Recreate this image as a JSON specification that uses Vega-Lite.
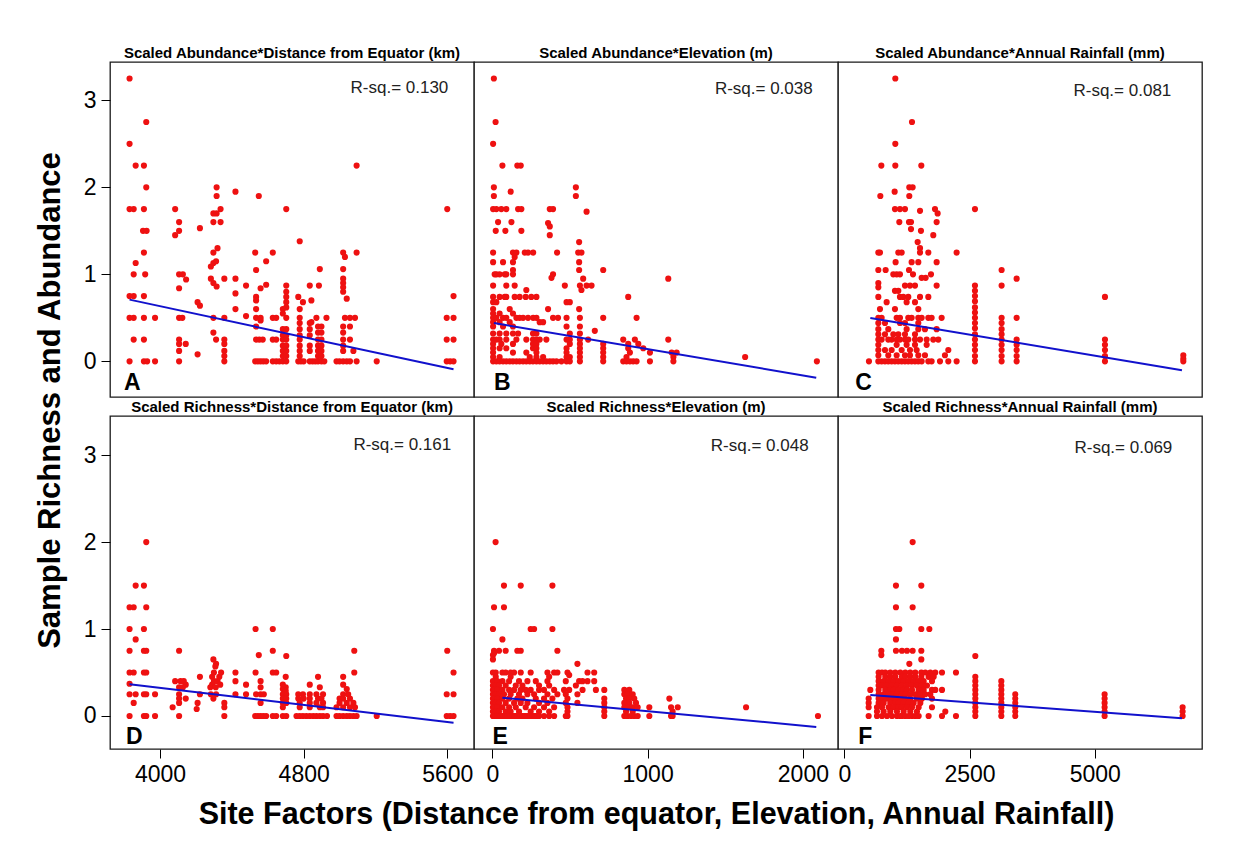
{
  "$schema": "https://vega.github.io/schema/vega-lite/v6.json",
  "padding": {"left": 33, "top": 43, "right": 5, "bottom": 5},
  "background": "white",
  "spacing": 0,
  "bounds": "flush",
  "align": "each",
  "columns": 3,
  "config": {
    "font": "Liberation Sans",
    "view": {"stroke": "#1a1a1a", "strokeWidth": 1.3, "fill": "white"},
    "axis": {"domain": false, "grid": false, "ticks": true, "tickColor": "#000", "tickSize": 9, "tickWidth": 1, "labelFont": "Liberation Sans", "labelFontSize": 23, "labelColor": "#000", "labelPadding": 5, "format": "d", "titleFont": "Liberation Sans", "titleFontWeight": "bold", "titleFontSize": 30.5, "titleColor": "#000", "titleLimit": 2000},
    "axisY": {"titlePadding": 17, "titleFontSize": 31},
    "axisX": {"titlePadding": 13}
  },
  "datasets": {
    "A": [
      {"x":3830,"y":3.25},{"x":3923,"y":2.75},{"x":3830,"y":2.5},{"x":3864,"y":2.25},{"x":3910,"y":2.25},{"x":5095,"y":2.25},{"x":3923,"y":2},{"x":4315,"y":2},{"x":4315,"y":1.9},{"x":4420,"y":1.95},{"x":4550,"y":1.9},
      {"x":3830,"y":1.75},{"x":3853,"y":1.75},{"x":3910,"y":1.75},{"x":4084,"y":1.75},{"x":4297,"y":1.7},{"x":4315,"y":1.7},{"x":4337,"y":1.75},{"x":4703,"y":1.75},{"x":5600,"y":1.75},
      {"x":4106,"y":1.6},{"x":4106,"y":1.5},{"x":4084,"y":1.45},{"x":4222,"y":1.53},{"x":4297,"y":1.6},{"x":4337,"y":1.6},{"x":3905,"y":1.5},{"x":3925,"y":1.5},{"x":4778,"y":1.38},
      {"x":3910,"y":1.25},{"x":4297,"y":1.25},{"x":4320,"y":1.3},{"x":4530,"y":1.25},{"x":4628,"y":1.25},{"x":5020,"y":1.25},{"x":5030,"y":1.2},{"x":5095,"y":1.25},
      {"x":3864,"y":1.13},{"x":4297,"y":1.13},{"x":4312,"y":1.15},{"x":4591,"y":1.15},{"x":4283,"y":1.09},{"x":4535,"y":1.05},{"x":4890,"y":1.06},{"x":5020,"y":1.06},
      {"x":3853,"y":1},{"x":3917,"y":1},{"x":4106,"y":1},{"x":4127,"y":1},{"x":4145,"y":0.94},{"x":4283,"y":0.95},{"x":4297,"y":0.9},{"x":4315,"y":0.86},{"x":4358,"y":0.95},{"x":4420,"y":0.95},{"x":4479,"y":0.87},{"x":4560,"y":0.84},{"x":4591,"y":0.88},
      {"x":4703,"y":0.87},{"x":4703,"y":0.8},{"x":4703,"y":0.74},{"x":4703,"y":0.68},{"x":4703,"y":0.62},{"x":4834,"y":0.87},{"x":4885,"y":0.87},{"x":5020,"y":0.95},{"x":5020,"y":0.9},{"x":5020,"y":0.85},{"x":5020,"y":0.8},{"x":5040,"y":0.72},{"x":4106,"y":0.84},
      {"x":3830,"y":0.75},{"x":3853,"y":0.75},{"x":3910,"y":0.75},{"x":4209,"y":0.68},{"x":4222,"y":0.64},{"x":4420,"y":0.78},{"x":4535,"y":0.74},{"x":4535,"y":0.7},{"x":4684,"y":0.6},{"x":4770,"y":0.74},{"x":4796,"y":0.68},{"x":4843,"y":0.7},{"x":5635,"y":0.75},{"x":4778,"y":0.6},{"x":4420,"y":0.6},{"x":4479,"y":0.52},{"x":4535,"y":0.6},
      {"x":3830,"y":0.5},{"x":3853,"y":0.5},{"x":3910,"y":0.5},{"x":3972,"y":0.5},{"x":4106,"y":0.5},{"x":4124,"y":0.5},{"x":4297,"y":0.5},{"x":4358,"y":0.5},{"x":4535,"y":0.5},{"x":4560,"y":0.5},{"x":4628,"y":0.5},{"x":4647,"y":0.5},{"x":4703,"y":0.5},{"x":4778,"y":0.5},{"x":4871,"y":0.5},{"x":4927,"y":0.5},{"x":5030,"y":0.5},{"x":5058,"y":0.5},{"x":5086,"y":0.5},{"x":5597,"y":0.5},{"x":5635,"y":0.5},
      {"x":4684,"y":0.55},{"x":4843,"y":0.45},{"x":4535,"y":0.4},{"x":4560,"y":0.47},{"x":5058,"y":0.4},
      {"x":3853,"y":0.25},{"x":3910,"y":0.25},{"x":4106,"y":0.25},{"x":4312,"y":0.25},{"x":4358,"y":0.25},{"x":4535,"y":0.25},{"x":4553,"y":0.25},{"x":4572,"y":0.25},{"x":4628,"y":0.25},{"x":4647,"y":0.25},{"x":4297,"y":0.33},{"x":5597,"y":0.25},{"x":5635,"y":0.25},
      {"x":4358,"y":0.2},{"x":4358,"y":0.12},{"x":4358,"y":0.06},
      {"x":4684,"y":0.37},{"x":4684,"y":0.3},{"x":4684,"y":0.25},{"x":4684,"y":0.18},{"x":4684,"y":0.12},{"x":4684,"y":0.06},
      {"x":4703,"y":0.37},{"x":4703,"y":0.3},{"x":4703,"y":0.25},{"x":4703,"y":0.18},{"x":4703,"y":0.12},{"x":4703,"y":0.06},
      {"x":4778,"y":0.44},{"x":4778,"y":0.37},{"x":4778,"y":0.3},{"x":4778,"y":0.25},{"x":4778,"y":0.18},{"x":4778,"y":0.12},{"x":4778,"y":0.06},
      {"x":4834,"y":0.44},{"x":4834,"y":0.37},{"x":4834,"y":0.3},{"x":4834,"y":0.18},{"x":4834,"y":0.12},
      {"x":4880,"y":0.4},{"x":4880,"y":0.33},{"x":4880,"y":0.25},{"x":4880,"y":0.18},{"x":4880,"y":0.12},{"x":4880,"y":0.06},
      {"x":4899,"y":0.4},{"x":4899,"y":0.33},{"x":4899,"y":0.25},{"x":4899,"y":0.18},{"x":4899,"y":0.12},{"x":4899,"y":0.06},
      {"x":5020,"y":0.4},{"x":5020,"y":0.33},{"x":5020,"y":0.25},{"x":5020,"y":0.18},{"x":5020,"y":0.12},
      {"x":5058,"y":0.25},{"x":5077,"y":0.12},{"x":4106,"y":0.2},{"x":4143,"y":0.2},{"x":4106,"y":0.12},{"x":4209,"y":0.08},
      {"x":3830,"y":0},{"x":3910,"y":0},{"x":3928,"y":0},{"x":3972,"y":0},{"x":4106,"y":0},{"x":4358,"y":0},{"x":4530,"y":0},{"x":4545,"y":0},{"x":4560,"y":0},{"x":4575,"y":0},{"x":4591,"y":0},{"x":4628,"y":0},{"x":4647,"y":0},{"x":4665,"y":0},{"x":4684,"y":0},{"x":4703,"y":0},{"x":4770,"y":0},{"x":4785,"y":0},{"x":4800,"y":0},{"x":4834,"y":0},{"x":4850,"y":0},{"x":4865,"y":0},{"x":4880,"y":0},{"x":4899,"y":0},{"x":4915,"y":0},{"x":4983,"y":0},{"x":5000,"y":0},{"x":5020,"y":0},{"x":5040,"y":0},{"x":5058,"y":0},{"x":5095,"y":0},{"x":5207,"y":0},{"x":5597,"y":0},{"x":5616,"y":0},{"x":5635,"y":0}
    ],
    "B": [
      {"x":10,"y":3.25},{"x":21,"y":2.75},{"x":5,"y":2.5},{"x":65,"y":2.25},{"x":161,"y":2.25},{"x":183,"y":2.25},{"x":10,"y":2},{"x":10,"y":1.9},{"x":118,"y":1.95},{"x":538,"y":2},{"x":538,"y":1.9},
      {"x":5,"y":1.75},{"x":26,"y":1.75},{"x":58,"y":1.75},{"x":90,"y":1.75},{"x":166,"y":1.75},{"x":187,"y":1.75},{"x":370,"y":1.75},{"x":391,"y":1.75},{"x":607,"y":1.72},
      {"x":37,"y":1.6},{"x":123,"y":1.6},{"x":359,"y":1.59},{"x":370,"y":1.55},{"x":22,"y":1.5},{"x":84,"y":1.5},{"x":187,"y":1.5},{"x":370,"y":1.45},{"x":559,"y":1.37},
      {"x":5,"y":1.25},{"x":133,"y":1.25},{"x":155,"y":1.25},{"x":209,"y":1.25},{"x":230,"y":1.25},{"x":263,"y":1.25},{"x":417,"y":1.25},{"x":553,"y":1.25},{"x":574,"y":1.25},{"x":144,"y":1.2},
      {"x":5,"y":1.14},{"x":69,"y":1.14},{"x":133,"y":1.14},{"x":559,"y":1.14},{"x":133,"y":1.05},{"x":559,"y":1.05},{"x":714,"y":1.05},
      {"x":15,"y":1},{"x":26,"y":1},{"x":47,"y":1},{"x":80,"y":1},{"x":90,"y":1},{"x":133,"y":1},{"x":391,"y":1},{"x":381,"y":0.96},{"x":585,"y":0.95},{"x":1133,"y":0.95},
      {"x":5,"y":0.87},{"x":90,"y":0.87},{"x":144,"y":0.87},{"x":467,"y":0.87},{"x":564,"y":0.87},{"x":607,"y":0.87},{"x":639,"y":0.87},{"x":219,"y":0.82},{"x":574,"y":0.82},
      {"x":5,"y":0.74},{"x":47,"y":0.74},{"x":80,"y":0.74},{"x":90,"y":0.74},{"x":144,"y":0.74},{"x":176,"y":0.74},{"x":215,"y":0.74},{"x":251,"y":0.74},{"x":284,"y":0.74},{"x":875,"y":0.74},
      {"x":478,"y":0.68},{"x":499,"y":0.68},{"x":5,"y":0.68},{"x":26,"y":0.68},{"x":5,"y":0.6},{"x":112,"y":0.6},{"x":359,"y":0.6},{"x":559,"y":0.6},{"x":5,"y":0.55},{"x":47,"y":0.55},{"x":133,"y":0.55},
      {"x":5,"y":0.5},{"x":26,"y":0.5},{"x":69,"y":0.5},{"x":90,"y":0.5},{"x":155,"y":0.5},{"x":176,"y":0.5},{"x":198,"y":0.5},{"x":230,"y":0.5},{"x":263,"y":0.5},{"x":284,"y":0.5},{"x":391,"y":0.5},{"x":423,"y":0.5},{"x":478,"y":0.5},{"x":564,"y":0.5},{"x":714,"y":0.5},{"x":929,"y":0.5},
      {"x":5,"y":0.45},{"x":47,"y":0.45},{"x":112,"y":0.45},{"x":305,"y":0.45},{"x":327,"y":0.45},
      {"x":5,"y":0.4},{"x":69,"y":0.4},{"x":133,"y":0.4},{"x":478,"y":0.4},{"x":564,"y":0.4},{"x":660,"y":0.35},
      {"x":5,"y":0.32},{"x":47,"y":0.32},{"x":90,"y":0.32},{"x":133,"y":0.32},{"x":166,"y":0.32},{"x":262,"y":0.32},{"x":284,"y":0.32},{"x":499,"y":0.32},{"x":564,"y":0.32},
      {"x":5,"y":0.25},{"x":26,"y":0.25},{"x":47,"y":0.25},{"x":90,"y":0.25},{"x":155,"y":0.25},{"x":219,"y":0.25},{"x":262,"y":0.25},{"x":284,"y":0.25},{"x":305,"y":0.25},{"x":348,"y":0.25},{"x":478,"y":0.25},{"x":499,"y":0.25},{"x":564,"y":0.25},{"x":617,"y":0.25},{"x":843,"y":0.25},{"x":918,"y":0.25},{"x":1133,"y":0.25},
      {"x":5,"y":0.2},{"x":58,"y":0.2},{"x":133,"y":0.2},{"x":262,"y":0.2},{"x":284,"y":0.2},{"x":499,"y":0.2},{"x":564,"y":0.2},{"x":714,"y":0.2},{"x":875,"y":0.2},{"x":940,"y":0.2},
      {"x":5,"y":0.15},{"x":47,"y":0.15},{"x":90,"y":0.15},{"x":262,"y":0.15},{"x":284,"y":0.15},{"x":478,"y":0.15},{"x":564,"y":0.15},{"x":714,"y":0.15},{"x":875,"y":0.15},{"x":972,"y":0.15},
      {"x":5,"y":0.1},{"x":133,"y":0.1},{"x":219,"y":0.1},{"x":284,"y":0.1},{"x":478,"y":0.1},{"x":564,"y":0.1},{"x":714,"y":0.1},{"x":886,"y":0.1},{"x":1015,"y":0.1},{"x":1155,"y":0.1},{"x":1187,"y":0.1},
      {"x":5,"y":0.05},{"x":47,"y":0.05},{"x":241,"y":0.05},{"x":284,"y":0.05},{"x":327,"y":0.05},{"x":478,"y":0.05},{"x":499,"y":0.05},{"x":564,"y":0.05},{"x":714,"y":0.05},{"x":864,"y":0.05},{"x":1166,"y":0.05},{"x":1628,"y":0.05},
      {"x":5,"y":0},{"x":26,"y":0},{"x":47,"y":0},{"x":69,"y":0},{"x":90,"y":0},{"x":112,"y":0},{"x":133,"y":0},{"x":155,"y":0},{"x":176,"y":0},{"x":198,"y":0},{"x":219,"y":0},{"x":241,"y":0},{"x":262,"y":0},{"x":284,"y":0},{"x":305,"y":0},{"x":327,"y":0},{"x":348,"y":0},{"x":370,"y":0},{"x":391,"y":0},{"x":413,"y":0},{"x":445,"y":0},{"x":478,"y":0},{"x":499,"y":0},{"x":564,"y":0},{"x":714,"y":0},{"x":843,"y":0},{"x":864,"y":0},{"x":886,"y":0},{"x":907,"y":0},{"x":929,"y":0},{"x":1015,"y":0},{"x":1166,"y":0},{"x":2090,"y":0}
    ],
    "C": [
      {"x":1018,"y":3.25},{"x":1351,"y":2.75},{"x":1018,"y":2.5},{"x":739,"y":2.25},{"x":1018,"y":2.25},{"x":1537,"y":2.25},{"x":719,"y":1.9},{"x":1005,"y":1.95},{"x":1297,"y":2},{"x":1364,"y":2},{"x":1297,"y":1.9},
      {"x":1011,"y":1.75},{"x":1111,"y":1.75},{"x":1211,"y":1.75},{"x":1511,"y":1.73},{"x":1810,"y":1.75},{"x":1863,"y":1.7},{"x":2608,"y":1.75},
      {"x":1098,"y":1.6},{"x":1291,"y":1.6},{"x":1331,"y":1.6},{"x":1843,"y":1.6},{"x":1331,"y":1.52},{"x":1530,"y":1.5},{"x":1776,"y":1.45},{"x":1464,"y":1.37},
      {"x":679,"y":1.25},{"x":712,"y":1.25},{"x":1078,"y":1.25},{"x":1145,"y":1.25},{"x":1511,"y":1.3},{"x":1511,"y":1.25},{"x":1677,"y":1.25},{"x":2242,"y":1.25},
      {"x":1024,"y":1.14},{"x":1344,"y":1.14},{"x":1477,"y":1.14},{"x":1843,"y":1.14},
      {"x":679,"y":1.05},{"x":825,"y":1.05},{"x":1291,"y":1.05},{"x":3140,"y":1.05},
      {"x":978,"y":1},{"x":1045,"y":1},{"x":1111,"y":1},{"x":1371,"y":1},{"x":1730,"y":1},{"x":1544,"y":0.96},{"x":1624,"y":0.96},{"x":3440,"y":0.95},
      {"x":679,"y":0.9},{"x":679,"y":0.85},{"x":1211,"y":0.87},{"x":1311,"y":0.87},{"x":1411,"y":0.87},{"x":1843,"y":0.87},{"x":3140,"y":0.87},
      {"x":1011,"y":0.81},{"x":1078,"y":0.81},
      {"x":679,"y":0.74},{"x":1111,"y":0.74},{"x":1178,"y":0.74},{"x":1277,"y":0.74},{"x":1511,"y":0.74},{"x":1677,"y":0.74},{"x":5203,"y":0.74},
      {"x":845,"y":0.68},{"x":1244,"y":0.68},{"x":1411,"y":0.68},{"x":712,"y":0.6},{"x":1011,"y":0.6},{"x":1477,"y":0.6},
      {"x":679,"y":0.5},{"x":745,"y":0.5},{"x":1045,"y":0.5},{"x":1111,"y":0.5},{"x":1277,"y":0.5},{"x":1344,"y":0.5},{"x":1477,"y":0.5},{"x":1544,"y":0.5},{"x":1677,"y":0.5},{"x":1743,"y":0.5},{"x":1943,"y":0.5},{"x":3140,"y":0.5},{"x":3440,"y":0.5},
      {"x":679,"y":0.44},{"x":812,"y":0.44},{"x":1111,"y":0.44},{"x":1211,"y":0.44},{"x":1477,"y":0.44},
      {"x":679,"y":0.37},{"x":878,"y":0.37},{"x":1244,"y":0.37},{"x":1477,"y":0.37},{"x":1610,"y":0.37},{"x":1843,"y":0.37},
      {"x":679,"y":0.31},{"x":812,"y":0.31},{"x":978,"y":0.31},{"x":1078,"y":0.31},{"x":1211,"y":0.31},{"x":1411,"y":0.31},
      {"x":679,"y":0.25},{"x":745,"y":0.25},{"x":878,"y":0.25},{"x":945,"y":0.25},{"x":1045,"y":0.25},{"x":1111,"y":0.25},{"x":1211,"y":0.25},{"x":1277,"y":0.25},{"x":1411,"y":0.25},{"x":1511,"y":0.25},{"x":1644,"y":0.25},{"x":1776,"y":0.25},{"x":1876,"y":0.25},{"x":5203,"y":0.25},
      {"x":679,"y":0.19},{"x":1045,"y":0.19},{"x":1244,"y":0.19},{"x":1411,"y":0.19},{"x":1644,"y":0.19},
      {"x":679,"y":0.13},{"x":812,"y":0.13},{"x":945,"y":0.13},{"x":1145,"y":0.13},{"x":1311,"y":0.13},{"x":1444,"y":0.13},{"x":2076,"y":0.13},
      {"x":679,"y":0.07},{"x":878,"y":0.07},{"x":1045,"y":0.07},{"x":1211,"y":0.07},{"x":1311,"y":0.07},{"x":1477,"y":0.07},{"x":1610,"y":0.07},{"x":2009,"y":0.07},
      {"x":492,"y":0},{"x":679,"y":0},{"x":745,"y":0},{"x":812,"y":0},{"x":878,"y":0},{"x":945,"y":0},{"x":1011,"y":0},{"x":1078,"y":0},{"x":1145,"y":0},{"x":1211,"y":0},{"x":1277,"y":0},{"x":1344,"y":0},{"x":1411,"y":0},{"x":1477,"y":0},{"x":1544,"y":0},{"x":1677,"y":0},{"x":1743,"y":0},{"x":1910,"y":0},{"x":2076,"y":0},{"x":2242,"y":0},
      {"x":2608,"y":0.87},{"x":2608,"y":0.81},{"x":2608,"y":0.75},{"x":2608,"y":0.69},{"x":2608,"y":0.62},{"x":2608,"y":0.56},{"x":2608,"y":0.5},{"x":2608,"y":0.44},{"x":2608,"y":0.38},{"x":2608,"y":0.31},{"x":2608,"y":0.25},{"x":2608,"y":0.19},{"x":2608,"y":0.13},{"x":2608,"y":0.06},{"x":2608,"y":0},
      {"x":3140,"y":0.44},{"x":3140,"y":0.37},{"x":3140,"y":0.31},{"x":3140,"y":0.25},{"x":3140,"y":0.19},{"x":3140,"y":0.13},{"x":3140,"y":0.06},{"x":3140,"y":0},
      {"x":3440,"y":0.25},{"x":3440,"y":0.19},{"x":3440,"y":0.13},{"x":3440,"y":0.06},{"x":3440,"y":0},
      {"x":5203,"y":0.19},{"x":5203,"y":0.13},{"x":5203,"y":0.06},{"x":5203,"y":0},
      {"x":6767,"y":0.07},{"x":6767,"y":0.03},{"x":6767,"y":0}
    ],
    "D": [
      {"x":3923,"y":2},{"x":3864,"y":1.5},{"x":3910,"y":1.5},{"x":3830,"y":1.25},{"x":3853,"y":1.25},{"x":3923,"y":1.25},
      {"x":3830,"y":1},{"x":3910,"y":1},{"x":4532,"y":1},{"x":4628,"y":1},{"x":3864,"y":0.88},
      {"x":3830,"y":0.75},{"x":3910,"y":0.75},{"x":3923,"y":0.75},{"x":4106,"y":0.75},{"x":5082,"y":0.75},{"x":5600,"y":0.75},{"x":4628,"y":0.75},
      {"x":4550,"y":0.7},{"x":4703,"y":0.69},{"x":4297,"y":0.65},{"x":4312,"y":0.6},{"x":4308,"y":0.57},
      {"x":3830,"y":0.5},{"x":3853,"y":0.5},{"x":3910,"y":0.5},{"x":3923,"y":0.5},{"x":4420,"y":0.5},{"x":4532,"y":0.5},{"x":4628,"y":0.5},{"x":4647,"y":0.5},{"x":5082,"y":0.5},{"x":5635,"y":0.5},
      {"x":4222,"y":0.45},{"x":4290,"y":0.45},{"x":4330,"y":0.45},{"x":4700,"y":0.45},{"x":4880,"y":0.45},{"x":5020,"y":0.45},{"x":4300,"y":0.5},{"x":4340,"y":0.5},
      {"x":4084,"y":0.4},{"x":4114,"y":0.4},{"x":4132,"y":0.4},{"x":4560,"y":0.4},{"x":4300,"y":0.4},{"x":4320,"y":0.4},{"x":4420,"y":0.4},{"x":3830,"y":0.37},
      {"x":4479,"y":0.36},{"x":4684,"y":0.36},{"x":4143,"y":0.36},{"x":4834,"y":0.36},{"x":5020,"y":0.36},{"x":4290,"y":0.36},{"x":4335,"y":0.36},
      {"x":4106,"y":0.33},{"x":4127,"y":0.33},{"x":4280,"y":0.33},{"x":4310,"y":0.33},{"x":4560,"y":0.33},{"x":4890,"y":0.33},{"x":4700,"y":0.33},
      {"x":4684,"y":0.31},{"x":4700,"y":0.29},{"x":5040,"y":0.31},
      {"x":3830,"y":0.25},{"x":3864,"y":0.25},{"x":3910,"y":0.25},{"x":3923,"y":0.25},{"x":3972,"y":0.25},{"x":4106,"y":0.25},{"x":4222,"y":0.25},{"x":4283,"y":0.25},{"x":4312,"y":0.25},{"x":4420,"y":0.25},{"x":4479,"y":0.25},{"x":4535,"y":0.25},{"x":4560,"y":0.25},{"x":4578,"y":0.25},{"x":4684,"y":0.25},{"x":4703,"y":0.25},{"x":4770,"y":0.25},{"x":4796,"y":0.25},{"x":4834,"y":0.25},{"x":4871,"y":0.25},{"x":4908,"y":0.25},{"x":5020,"y":0.25},{"x":5048,"y":0.25},{"x":5597,"y":0.25},{"x":5635,"y":0.25},
      {"x":4106,"y":0.2},{"x":4143,"y":0.2},{"x":4297,"y":0.2},{"x":4684,"y":0.2},{"x":4703,"y":0.2},{"x":4770,"y":0.2},{"x":4800,"y":0.2},{"x":4834,"y":0.2},{"x":4880,"y":0.2},{"x":4899,"y":0.2},{"x":5000,"y":0.2},{"x":5020,"y":0.2},{"x":5058,"y":0.2},
      {"x":3853,"y":0.15},{"x":4106,"y":0.15},{"x":4209,"y":0.15},{"x":4358,"y":0.15},{"x":4560,"y":0.15},{"x":4684,"y":0.15},{"x":4703,"y":0.15},{"x":4778,"y":0.15},{"x":4834,"y":0.15},{"x":4871,"y":0.15},{"x":4908,"y":0.15},{"x":5000,"y":0.15},{"x":5040,"y":0.15},{"x":5077,"y":0.15},
      {"x":4070,"y":0.1},{"x":4204,"y":0.08},{"x":4358,"y":0.1},{"x":4684,"y":0.1},{"x":4778,"y":0.1},{"x":4834,"y":0.1},{"x":4890,"y":0.1},{"x":4908,"y":0.1},{"x":4983,"y":0.1},{"x":5020,"y":0.1},{"x":5058,"y":0.1},{"x":5086,"y":0.1},
      {"x":3830,"y":0},{"x":3910,"y":0},{"x":3923,"y":0},{"x":3972,"y":0},{"x":4106,"y":0},{"x":4358,"y":0},{"x":4530,"y":0},{"x":4545,"y":0},{"x":4560,"y":0},{"x":4575,"y":0},{"x":4591,"y":0},{"x":4628,"y":0},{"x":4647,"y":0},{"x":4684,"y":0},{"x":4703,"y":0},{"x":4760,"y":0},{"x":4778,"y":0},{"x":4796,"y":0},{"x":4815,"y":0},{"x":4834,"y":0},{"x":4853,"y":0},{"x":4871,"y":0},{"x":4890,"y":0},{"x":4908,"y":0},{"x":4930,"y":0},{"x":4983,"y":0},{"x":5000,"y":0},{"x":5020,"y":0},{"x":5040,"y":0},{"x":5058,"y":0},{"x":5077,"y":0},{"x":5095,"y":0},{"x":5207,"y":0},{"x":5597,"y":0},{"x":5616,"y":0},{"x":5635,"y":0}
    ],
    "E": [
      {"x":21,"y":2},{"x":75,"y":1.5},{"x":183,"y":1.5},{"x":387,"y":1.5},{"x":11,"y":1.25},{"x":75,"y":1.25},
      {"x":4,"y":1},{"x":247,"y":1},{"x":269,"y":1},{"x":387,"y":1},{"x":65,"y":0.88},
      {"x":11,"y":0.75},{"x":43,"y":0.75},{"x":86,"y":0.75},{"x":161,"y":0.75},{"x":183,"y":0.75},{"x":419,"y":0.75},
      {"x":4,"y":0.7},{"x":11,"y":0.72},{"x":4,"y":0.65},{"x":548,"y":0.6},
      {"x":4,"y":0.5},{"x":22,"y":0.5},{"x":65,"y":0.5},{"x":86,"y":0.5},{"x":118,"y":0.5},{"x":140,"y":0.5},{"x":183,"y":0.5},{"x":247,"y":0.5},{"x":355,"y":0.5},{"x":398,"y":0.5},{"x":419,"y":0.5},{"x":484,"y":0.5},{"x":613,"y":0.5},{"x":656,"y":0.5},
      {"x":366,"y":0.45},{"x":495,"y":0.47},{"x":22,"y":0.45},{"x":118,"y":0.45},
      {"x":4,"y":0.4},{"x":32,"y":0.4},{"x":65,"y":0.4},{"x":108,"y":0.4},{"x":172,"y":0.4},{"x":226,"y":0.4},{"x":280,"y":0.4},{"x":355,"y":0.4},{"x":473,"y":0.4},{"x":559,"y":0.4},{"x":581,"y":0.4},{"x":613,"y":0.4},{"x":656,"y":0.4},
      {"x":4,"y":0.35},{"x":22,"y":0.35},{"x":43,"y":0.35},{"x":86,"y":0.35},{"x":151,"y":0.35},{"x":194,"y":0.35},{"x":301,"y":0.35},{"x":366,"y":0.35},{"x":538,"y":0.35},
      {"x":4,"y":0.3},{"x":11,"y":0.3},{"x":32,"y":0.3},{"x":65,"y":0.3},{"x":108,"y":0.3},{"x":140,"y":0.3},{"x":183,"y":0.3},{"x":215,"y":0.3},{"x":247,"y":0.3},{"x":301,"y":0.3},{"x":333,"y":0.3},{"x":398,"y":0.3},{"x":462,"y":0.3},{"x":495,"y":0.3},{"x":581,"y":0.3},{"x":667,"y":0.3},{"x":721,"y":0.3},{"x":850,"y":0.3},{"x":882,"y":0.3},
      {"x":4,"y":0.25},{"x":22,"y":0.25},{"x":43,"y":0.25},{"x":75,"y":0.25},{"x":118,"y":0.25},{"x":172,"y":0.25},{"x":226,"y":0.25},{"x":269,"y":0.25},{"x":355,"y":0.25},{"x":419,"y":0.25},{"x":473,"y":0.25},{"x":548,"y":0.25},{"x":850,"y":0.25},{"x":871,"y":0.25},{"x":904,"y":0.25},
      {"x":4,"y":0.2},{"x":32,"y":0.2},{"x":65,"y":0.2},{"x":108,"y":0.2},{"x":161,"y":0.2},{"x":194,"y":0.2},{"x":280,"y":0.2},{"x":333,"y":0.2},{"x":387,"y":0.2},{"x":484,"y":0.2},{"x":721,"y":0.2},{"x":861,"y":0.2},{"x":882,"y":0.2},{"x":914,"y":0.2},{"x":1140,"y":0.2},
      {"x":4,"y":0.15},{"x":22,"y":0.15},{"x":43,"y":0.15},{"x":86,"y":0.15},{"x":140,"y":0.15},{"x":183,"y":0.15},{"x":226,"y":0.15},{"x":301,"y":0.15},{"x":355,"y":0.15},{"x":473,"y":0.15},{"x":548,"y":0.15},{"x":721,"y":0.15},{"x":850,"y":0.15},{"x":882,"y":0.15},{"x":925,"y":0.15},
      {"x":4,"y":0.1},{"x":32,"y":0.1},{"x":65,"y":0.1},{"x":108,"y":0.1},{"x":151,"y":0.1},{"x":215,"y":0.1},{"x":269,"y":0.1},{"x":333,"y":0.1},{"x":398,"y":0.1},{"x":484,"y":0.1},{"x":721,"y":0.1},{"x":850,"y":0.1},{"x":871,"y":0.1},{"x":904,"y":0.1},{"x":936,"y":0.1},{"x":1011,"y":0.1},{"x":1151,"y":0.1},{"x":1194,"y":0.1},{"x":1634,"y":0.1},
      {"x":4,"y":0.05},{"x":22,"y":0.05},{"x":43,"y":0.05},{"x":86,"y":0.05},{"x":118,"y":0.05},{"x":172,"y":0.05},{"x":247,"y":0.05},{"x":301,"y":0.05},{"x":366,"y":0.05},{"x":484,"y":0.05},{"x":721,"y":0.05},{"x":861,"y":0.05},{"x":904,"y":0.05},{"x":1161,"y":0.05},
      {"x":4,"y":0},{"x":11,"y":0},{"x":22,"y":0},{"x":32,"y":0},{"x":43,"y":0},{"x":54,"y":0},{"x":65,"y":0},{"x":75,"y":0},{"x":86,"y":0},{"x":97,"y":0},{"x":108,"y":0},{"x":118,"y":0},{"x":129,"y":0},{"x":140,"y":0},{"x":151,"y":0},{"x":161,"y":0},{"x":172,"y":0},{"x":183,"y":0},{"x":194,"y":0},{"x":205,"y":0},{"x":215,"y":0},{"x":226,"y":0},{"x":237,"y":0},{"x":247,"y":0},{"x":258,"y":0},{"x":269,"y":0},{"x":280,"y":0},{"x":291,"y":0},{"x":301,"y":0},{"x":333,"y":0},{"x":366,"y":0},{"x":398,"y":0},{"x":473,"y":0},{"x":484,"y":0},{"x":721,"y":0},{"x":850,"y":0},{"x":871,"y":0},{"x":893,"y":0},{"x":914,"y":0},{"x":936,"y":0},{"x":1011,"y":0},{"x":1151,"y":0},{"x":1161,"y":0},{"x":2097,"y":0}
    ],
    "F": [
      {"x":1364,"y":2},{"x":1031,"y":1.5},{"x":1537,"y":1.5},{"x":1031,"y":1.25},{"x":1364,"y":1.25},
      {"x":1031,"y":1},{"x":1098,"y":1},{"x":1537,"y":1},{"x":1697,"y":1},{"x":1031,"y":0.88},
      {"x":739,"y":0.75},{"x":1031,"y":0.75},{"x":1151,"y":0.75},{"x":1251,"y":0.75},{"x":1364,"y":0.75},{"x":1537,"y":0.75},
      {"x":739,"y":0.7},{"x":1537,"y":0.65},{"x":1298,"y":0.6},{"x":2615,"y":0.69},
      {"x":685,"y":0.5},{"x":752,"y":0.5},{"x":818,"y":0.5},{"x":918,"y":0.5},{"x":1018,"y":0.5},{"x":1118,"y":0.5},{"x":1218,"y":0.5},{"x":1317,"y":0.5},{"x":1417,"y":0.5},{"x":1537,"y":0.5},{"x":1617,"y":0.5},{"x":1717,"y":0.5},{"x":1816,"y":0.5},{"x":1950,"y":0.5},{"x":2229,"y":0.5},
      {"x":685,"y":0.45},{"x":818,"y":0.45},{"x":918,"y":0.45},{"x":1018,"y":0.45},{"x":1151,"y":0.45},{"x":1218,"y":0.45},{"x":1317,"y":0.45},{"x":1417,"y":0.45},{"x":1537,"y":0.45},{"x":1683,"y":0.45},{"x":1784,"y":0.45},{"x":2615,"y":0.45},
      {"x":685,"y":0.4},{"x":785,"y":0.4},{"x":885,"y":0.4},{"x":985,"y":0.4},{"x":1085,"y":0.4},{"x":1184,"y":0.4},{"x":1284,"y":0.4},{"x":1384,"y":0.4},{"x":1484,"y":0.4},{"x":1584,"y":0.4},{"x":1750,"y":0.4},{"x":2615,"y":0.4},{"x":3134,"y":0.4},
      {"x":685,"y":0.35},{"x":752,"y":0.35},{"x":852,"y":0.35},{"x":952,"y":0.35},{"x":1051,"y":0.35},{"x":1151,"y":0.35},{"x":1251,"y":0.35},{"x":1351,"y":0.35},{"x":1450,"y":0.35},{"x":1550,"y":0.35},{"x":1650,"y":0.35},{"x":2615,"y":0.35},{"x":3134,"y":0.35},
      {"x":519,"y":0.3},{"x":685,"y":0.3},{"x":818,"y":0.3},{"x":918,"y":0.3},{"x":985,"y":0.3},{"x":1085,"y":0.3},{"x":1184,"y":0.3},{"x":1251,"y":0.3},{"x":1351,"y":0.3},{"x":1484,"y":0.3},{"x":1584,"y":0.3},{"x":1750,"y":0.3},{"x":1816,"y":0.3},{"x":1950,"y":0.3},{"x":2615,"y":0.3},{"x":3134,"y":0.3},
      {"x":685,"y":0.25},{"x":785,"y":0.25},{"x":885,"y":0.25},{"x":985,"y":0.25},{"x":1051,"y":0.25},{"x":1151,"y":0.25},{"x":1218,"y":0.25},{"x":1317,"y":0.25},{"x":1417,"y":0.25},{"x":1517,"y":0.25},{"x":1617,"y":0.25},{"x":1717,"y":0.25},{"x":2615,"y":0.25},{"x":3134,"y":0.25},{"x":3413,"y":0.25},{"x":5196,"y":0.25},
      {"x":486,"y":0.2},{"x":685,"y":0.2},{"x":752,"y":0.2},{"x":852,"y":0.2},{"x":952,"y":0.2},{"x":1051,"y":0.2},{"x":1118,"y":0.2},{"x":1218,"y":0.2},{"x":1317,"y":0.2},{"x":1450,"y":0.2},{"x":1550,"y":0.2},{"x":1750,"y":0.2},{"x":2615,"y":0.2},{"x":3134,"y":0.2},{"x":3413,"y":0.2},{"x":5196,"y":0.2},
      {"x":486,"y":0.15},{"x":685,"y":0.15},{"x":785,"y":0.15},{"x":918,"y":0.15},{"x":1018,"y":0.15},{"x":1085,"y":0.15},{"x":1184,"y":0.15},{"x":1284,"y":0.15},{"x":1384,"y":0.15},{"x":1517,"y":0.15},{"x":2615,"y":0.15},{"x":3134,"y":0.15},{"x":3413,"y":0.15},{"x":5196,"y":0.15},
      {"x":486,"y":0.1},{"x":652,"y":0.1},{"x":752,"y":0.1},{"x":885,"y":0.1},{"x":985,"y":0.1},{"x":1085,"y":0.1},{"x":1151,"y":0.1},{"x":1251,"y":0.1},{"x":1351,"y":0.1},{"x":1484,"y":0.1},{"x":1750,"y":0.1},{"x":2615,"y":0.1},{"x":3134,"y":0.1},{"x":3413,"y":0.1},{"x":5196,"y":0.1},{"x":6753,"y":0.1},
      {"x":652,"y":0.05},{"x":785,"y":0.05},{"x":918,"y":0.05},{"x":1051,"y":0.05},{"x":1184,"y":0.05},{"x":1317,"y":0.05},{"x":1450,"y":0.05},{"x":2016,"y":0.05},{"x":2615,"y":0.05},{"x":3134,"y":0.05},{"x":3413,"y":0.05},{"x":5196,"y":0.05},{"x":6753,"y":0.05},
      {"x":486,"y":0},{"x":652,"y":0},{"x":752,"y":0},{"x":852,"y":0},{"x":952,"y":0},{"x":1051,"y":0},{"x":1118,"y":0},{"x":1151,"y":0},{"x":1218,"y":0},{"x":1284,"y":0},{"x":1351,"y":0},{"x":1417,"y":0},{"x":1484,"y":0},{"x":1683,"y":0},{"x":1950,"y":0},{"x":2229,"y":0},{"x":2615,"y":0},{"x":3134,"y":0},{"x":3413,"y":0},{"x":5196,"y":0},{"x":6753,"y":0}
    ]
  },
  "concat": [
    {"width": 364, "height": 19, "data": {"values": [{"t": "Scaled Abundance*Distance from Equator (km)"}]}, "mark": {"type": "text", "font": "Liberation Sans", "fontWeight": "bold", "fontSize": 15, "baseline": "middle", "color": "#000"}, "encoding": {"text": {"field": "t"}}},
    {"width": 364, "height": 19, "data": {"values": [{"t": "Scaled Abundance*Elevation (m)"}]}, "mark": {"type": "text", "font": "Liberation Sans", "fontWeight": "bold", "fontSize": 15, "baseline": "middle", "color": "#000"}, "encoding": {"text": {"field": "t"}}},
    {"width": 364, "height": 19, "data": {"values": [{"t": "Scaled Abundance*Annual Rainfall (mm)"}]}, "mark": {"type": "text", "font": "Liberation Sans", "fontWeight": "bold", "fontSize": 15, "baseline": "middle", "color": "#000"}, "encoding": {"text": {"field": "t"}}},
    {
      "width": 364, "height": 335, "data": {"name": "A"},
      "encoding": {
        "x": {"field": "x", "type": "quantitative", "scale": {"domain": [3721, 5749], "nice": false, "zero": false}, "axis": null},
        "y": {"field": "y", "type": "quantitative", "scale": {"domain": [-0.41, 3.44], "nice": false, "zero": false}, "axis": {"values": [0, 1, 2, 3], "title": "Sample Richness and Abundance", "titleY": 338}}
      },
      "layer": [
        {"mark": {"type": "circle", "size": 38, "color": "#ee1111", "opacity": 1}},
        {"data": {"values": [{"x": 3830, "y": 0.709}, {"x": 5635, "y": -0.092}]}, "mark": {"type": "line", "color": "#1111cc", "strokeWidth": 2}, "encoding": {}},
        {"data": {"values": [{"t": "R-sq.= 0.130", "x": 5606, "y": 3.14}]}, "mark": {"type": "text", "align": "right", "baseline": "middle", "font": "Liberation Sans", "fontSize": 17, "color": "#222"}, "encoding": {"text": {"field": "t", "type": "nominal"}}},
        {"data": {"values": [{"t": "A", "x": 3799, "y": -0.333}]}, "mark": {"type": "text", "align": "left", "baseline": "alphabetic", "font": "Liberation Sans", "fontWeight": "bold", "fontSize": 23, "color": "#000"}, "encoding": {"text": {"field": "t", "type": "nominal"}}}
      ]
    },
    {
      "width": 364, "height": 335, "data": {"name": "B"},
      "encoding": {
        "x": {"field": "x", "type": "quantitative", "scale": {"domain": [-118, 2226], "nice": false, "zero": false}, "axis": null},
        "y": {"field": "y", "type": "quantitative", "scale": {"domain": [-0.41, 3.44], "nice": false, "zero": false}, "axis": null}
      },
      "layer": [
        {"mark": {"type": "circle", "size": 38, "color": "#ee1111", "opacity": 1}},
        {"data": {"values": [{"x": 10, "y": 0.44}, {"x": 2086, "y": -0.188}]}, "mark": {"type": "line", "color": "#1111cc", "strokeWidth": 2}, "encoding": {}},
        {"data": {"values": [{"t": "R-sq.= 0.038", "x": 2063, "y": 3.13}]}, "mark": {"type": "text", "align": "right", "baseline": "middle", "font": "Liberation Sans", "fontSize": 17, "color": "#222"}, "encoding": {"text": {"field": "t", "type": "nominal"}}},
        {"data": {"values": [{"t": "B", "x": 11, "y": -0.333}]}, "mark": {"type": "text", "align": "left", "baseline": "alphabetic", "font": "Liberation Sans", "fontWeight": "bold", "fontSize": 23, "color": "#000"}, "encoding": {"text": {"field": "t", "type": "nominal"}}}
      ]
    },
    {
      "width": 364, "height": 335, "data": {"name": "C"},
      "encoding": {
        "x": {"field": "x", "type": "quantitative", "scale": {"domain": [-126, 7140], "nice": false, "zero": false}, "axis": null},
        "y": {"field": "y", "type": "quantitative", "scale": {"domain": [-0.41, 3.44], "nice": false, "zero": false}, "axis": null}
      },
      "layer": [
        {"mark": {"type": "circle", "size": 38, "color": "#ee1111", "opacity": 1}},
        {"data": {"values": [{"x": 519, "y": 0.498}, {"x": 6740, "y": -0.103}]}, "mark": {"type": "line", "color": "#1111cc", "strokeWidth": 2}, "encoding": {}},
        {"data": {"values": [{"t": "R-sq.= 0.081", "x": 6527, "y": 3.11}]}, "mark": {"type": "text", "align": "right", "baseline": "middle", "font": "Liberation Sans", "fontSize": 17, "color": "#222"}, "encoding": {"text": {"field": "t", "type": "nominal"}}},
        {"data": {"values": [{"t": "C", "x": 220, "y": -0.333}]}, "mark": {"type": "text", "align": "left", "baseline": "alphabetic", "font": "Liberation Sans", "fontWeight": "bold", "fontSize": 23, "color": "#000"}, "encoding": {"text": {"field": "t", "type": "nominal"}}}
      ]
    },
    {"width": 364, "height": 19, "data": {"values": [{"t": "Scaled Richness*Distance from Equator (km)"}]}, "mark": {"type": "text", "font": "Liberation Sans", "fontWeight": "bold", "fontSize": 15, "baseline": "middle", "color": "#000"}, "encoding": {"text": {"field": "t"}}},
    {"width": 364, "height": 19, "data": {"values": [{"t": "Scaled Richness*Elevation (m)"}]}, "mark": {"type": "text", "font": "Liberation Sans", "fontWeight": "bold", "fontSize": 15, "baseline": "middle", "color": "#000"}, "encoding": {"text": {"field": "t"}}},
    {"width": 364, "height": 19, "data": {"values": [{"t": "Scaled Richness*Annual Rainfall (mm)"}]}, "mark": {"type": "text", "font": "Liberation Sans", "fontWeight": "bold", "fontSize": 15, "baseline": "middle", "color": "#000"}, "encoding": {"text": {"field": "t"}}},
    {
      "width": 364, "height": 333, "data": {"name": "D"},
      "encoding": {
        "x": {"field": "x", "type": "quantitative", "scale": {"domain": [3721, 5749], "nice": false, "zero": false}, "axis": {"values": [4000, 4800, 5600], "title": null}},
        "y": {"field": "y", "type": "quantitative", "scale": {"domain": [-0.38, 3.45], "nice": false, "zero": false}, "axis": {"values": [0, 1, 2, 3], "title": null}}
      },
      "layer": [
        {"mark": {"type": "circle", "size": 38, "color": "#ee1111", "opacity": 1}},
        {"data": {"values": [{"x": 3830, "y": 0.364}, {"x": 5635, "y": -0.077}]}, "mark": {"type": "line", "color": "#1111cc", "strokeWidth": 2}, "encoding": {}},
        {"data": {"values": [{"t": "R-sq.= 0.161", "x": 5622, "y": 3.12}]}, "mark": {"type": "text", "align": "right", "baseline": "middle", "font": "Liberation Sans", "fontSize": 17, "color": "#222"}, "encoding": {"text": {"field": "t", "type": "nominal"}}},
        {"data": {"values": [{"t": "D", "x": 3810, "y": -0.32}]}, "mark": {"type": "text", "align": "left", "baseline": "alphabetic", "font": "Liberation Sans", "fontWeight": "bold", "fontSize": 23, "color": "#000"}, "encoding": {"text": {"field": "t", "type": "nominal"}}}
      ]
    },
    {
      "width": 364, "height": 333, "data": {"name": "E"},
      "encoding": {
        "x": {"field": "x", "type": "quantitative", "scale": {"domain": [-118, 2226], "nice": false, "zero": false}, "axis": {"values": [0, 1000, 2000], "title": "Site Factors (Distance from equator, Elevation, Annual Rainfall)"}},
        "y": {"field": "y", "type": "quantitative", "scale": {"domain": [-0.38, 3.45], "nice": false, "zero": false}, "axis": null}
      },
      "layer": [
        {"mark": {"type": "circle", "size": 38, "color": "#ee1111", "opacity": 1}},
        {"data": {"values": [{"x": 65, "y": 0.21}, {"x": 2086, "y": -0.126}]}, "mark": {"type": "line", "color": "#1111cc", "strokeWidth": 2}, "encoding": {}},
        {"data": {"values": [{"t": "R-sq.= 0.048", "x": 2037, "y": 3.1}]}, "mark": {"type": "text", "align": "right", "baseline": "middle", "font": "Liberation Sans", "fontSize": 17, "color": "#222"}, "encoding": {"text": {"field": "t", "type": "nominal"}}},
        {"data": {"values": [{"t": "E", "x": 1, "y": -0.32}]}, "mark": {"type": "text", "align": "left", "baseline": "alphabetic", "font": "Liberation Sans", "fontWeight": "bold", "fontSize": 23, "color": "#000"}, "encoding": {"text": {"field": "t", "type": "nominal"}}}
      ]
    },
    {
      "width": 364, "height": 333, "data": {"name": "F"},
      "encoding": {
        "x": {"field": "x", "type": "quantitative", "scale": {"domain": [-126, 7140], "nice": false, "zero": false}, "axis": {"values": [0, 2500, 5000], "title": null}},
        "y": {"field": "y", "type": "quantitative", "scale": {"domain": [-0.38, 3.45], "nice": false, "zero": false}, "axis": null}
      },
      "layer": [
        {"mark": {"type": "circle", "size": 38, "color": "#ee1111", "opacity": 1}},
        {"data": {"values": [{"x": 519, "y": 0.241}, {"x": 6740, "y": -0.027}]}, "mark": {"type": "line", "color": "#1111cc", "strokeWidth": 2}, "encoding": {}},
        {"data": {"values": [{"t": "R-sq.= 0.069", "x": 6547, "y": 3.08}]}, "mark": {"type": "text", "align": "right", "baseline": "middle", "font": "Liberation Sans", "fontSize": 17, "color": "#222"}, "encoding": {"text": {"field": "t", "type": "nominal"}}},
        {"data": {"values": [{"t": "F", "x": 280, "y": -0.32}]}, "mark": {"type": "text", "align": "left", "baseline": "alphabetic", "font": "Liberation Sans", "fontWeight": "bold", "fontSize": 23, "color": "#000"}, "encoding": {"text": {"field": "t", "type": "nominal"}}}
      ]
    }
  ]
}
